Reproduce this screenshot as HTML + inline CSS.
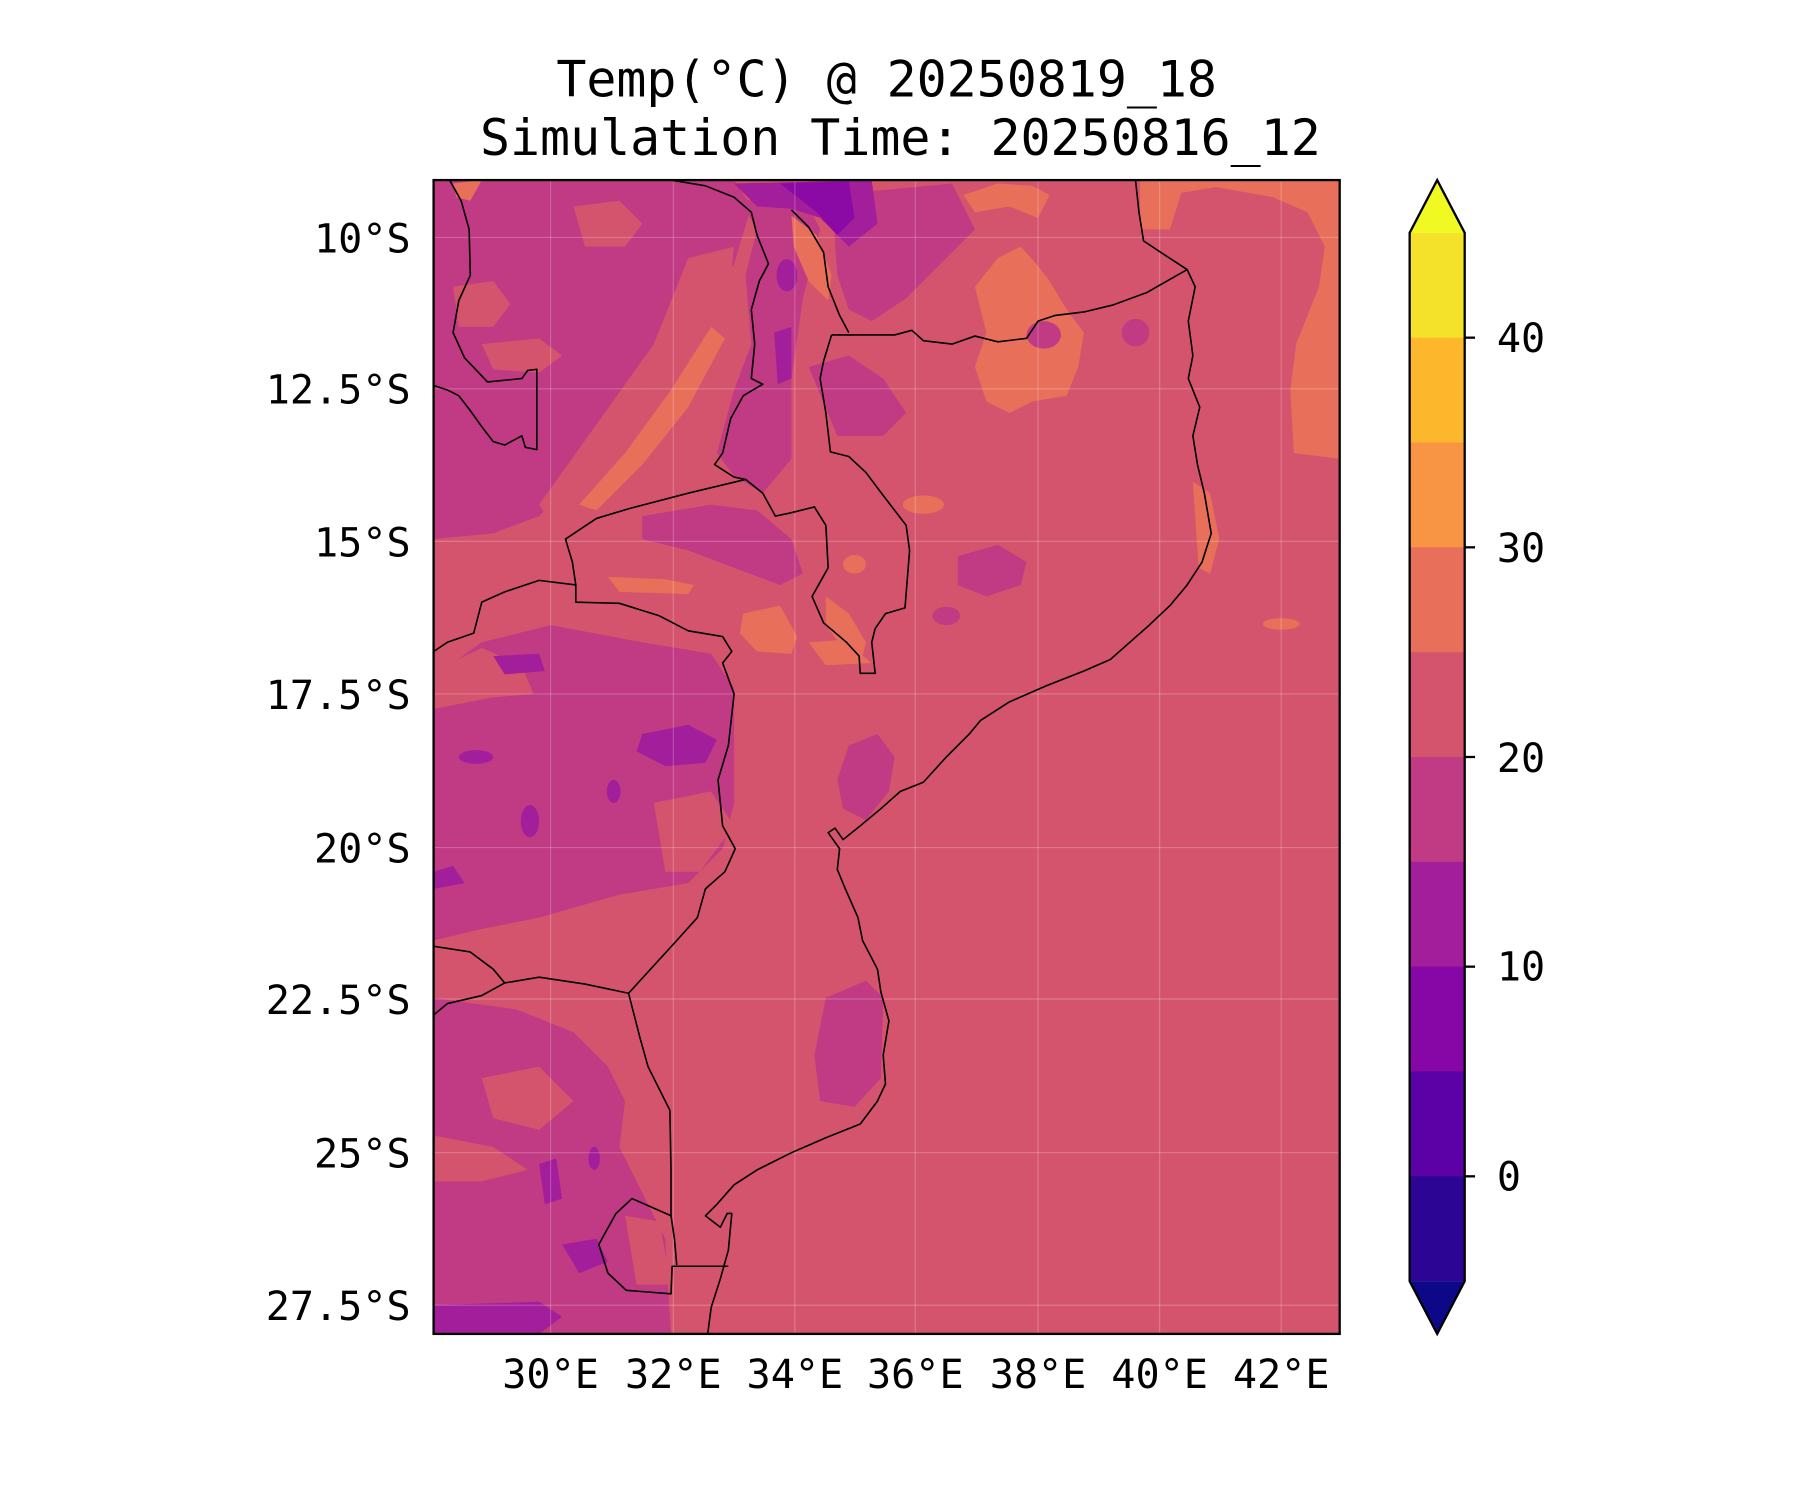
<!DOCTYPE html>
<html><head><meta charset="utf-8"><style>
html,body{margin:0;padding:0;background:#fff;}
svg{display:block;}
text{font-family:"DejaVu Sans Mono","Liberation Mono",monospace;fill:#000;}
</style></head><body>
<svg width="1800" height="1500" viewBox="0 0 1569.3 1307.8" xmlns="http://www.w3.org/2000/svg">
<defs><clipPath id="mc"><rect x="378" y="157" width="790" height="1006"/></clipPath></defs>
<text x="773" y="84" font-size="43.5" text-anchor="middle">Temp(°C) @ 20250819_18</text>
<text x="785" y="135" font-size="43.5" text-anchor="middle">Simulation Time: 20250816_12</text>
<g clip-path="url(#mc)">
<rect x="378" y="157" width="790" height="1006" fill="#d5546d"/>
<path fill="#e8705a" d="M994,157 L1168,157 L1168,400 L1128,395 L1125,340 L1130,300 L1140,275 L1150,250 L1155,215 L1140,185 L1110,172 L1060,163 L1030,168 L1020,200 L994,200 Z"/>
<path fill="#e8705a" d="M850,250 L870,225 L890,215 L905,232 L915,245 L930,270 L945,290 L940,320 L930,345 L900,350 L880,360 L860,350 L850,320 L860,290 Z"/>
<path fill="#e8705a" d="M840,170 L870,160 L900,162 L915,170 L905,190 L880,180 L850,185 Z"/>
<path fill="#e8705a" d="M1040,420 L1055,430 L1063,470 L1055,500 L1045,495 Z"/>
<ellipse cx="1117" cy="544" rx="16" ry="5" fill="#e8705a"/>
<path fill="#c03a84" d="M378,157 L640,157 L655,180 L640,230 L625,255 L590,290 L560,330 L530,380 L500,420 L470,450 L430,465 L378,470 Z"/>
<path fill="#d5546d" d="M395,250 L430,245 L445,265 L430,285 L400,285 Z"/>
<path fill="#d5546d" d="M420,300 L470,295 L490,310 L470,325 L430,322 Z"/>
<path fill="#d5546d" d="M500,180 L540,175 L560,195 L545,215 L510,215 Z"/>
<path fill="#d5546d" d="M600,225 L640,215 L635,260 L570,330 L520,400 L480,455 L470,440 L520,370 L570,300 Z"/>
<path fill="#e8705a" d="M620,285 L632,295 L600,355 L560,405 L520,445 L505,440 L545,395 L585,340 Z"/>
<path fill="#e8705a" d="M395,160 L420,157 L410,175 L398,172 Z"/>
<path fill="#c03a84" d="M645,175 L700,170 L715,200 L700,260 L690,330 L690,400 L665,430 L640,415 L625,395 L640,340 L655,300 L650,240 L660,200 Z"/>
<path fill="#c03a84" d="M725,170 L830,160 L850,200 L820,230 L790,260 L760,280 L740,270 L730,240 Z"/>
<path fill="#a21e9a" d="M640,160 L760,157 L765,195 L740,215 L715,190 L690,182 L660,180 Z"/>
<path fill="#8b0aa5" d="M680,160 L740,158 L745,190 L730,205 L712,185 Z"/>
<path fill="#a21e9a" d="M675,290 L690,285 L690,330 L678,335 Z"/>
<ellipse cx="686" cy="240" rx="9" ry="14" fill="#a21e9a"/>
<path fill="#e8705a" d="M690,188 L712,205 L725,240 L722,262 L705,245 L692,215 Z"/>
<path fill="#c03a84" d="M705,320 L740,310 L770,330 L790,360 L770,380 L730,380 Z"/>
<path fill="#c03a84" d="M560,450 L620,440 L660,445 L690,470 L700,500 L680,510 L640,495 L600,480 L560,470 Z"/>
<ellipse cx="805" cy="440" rx="18" ry="8" fill="#e8705a"/>
<ellipse cx="745" cy="492" rx="10" ry="8" fill="#e8705a"/>
<path fill="#e8705a" d="M720,520 L740,535 L755,560 L750,580 L735,565 L720,545 Z"/>
<path fill="#e8705a" d="M648,535 L680,528 L695,555 L690,570 L660,568 L645,552 Z"/>
<path fill="#e8705a" d="M705,560 L735,558 L760,578 L720,580 Z"/>
<path fill="#e8705a" d="M530,503 L580,505 L605,510 L600,518 L540,516 Z"/>
<path fill="#c03a84" d="M835,485 L870,475 L895,490 L890,510 L860,520 L835,510 Z"/>
<ellipse cx="825" cy="537" rx="12" ry="8" fill="#c03a84"/>
<path fill="#c03a84" d="M740,650 L765,640 L780,660 L775,690 L755,715 L735,705 L730,680 Z"/>
<path fill="#c03a84" d="M720,870 L755,855 L770,870 L768,940 L745,965 L715,960 L710,920 Z"/>
<ellipse cx="910" cy="292" rx="15" ry="12" fill="#c03a84"/>
<ellipse cx="990" cy="290" rx="12" ry="12" fill="#c03a84"/>
<path fill="#c03a84" d="M378,590 L420,560 L480,545 L560,560 L620,570 L640,600 L640,700 L630,740 L600,770 L540,780 L470,800 L420,810 L378,820 Z"/>
<path fill="#d5546d" d="M378,585 L420,565 L455,580 L465,605 L430,608 L378,618 Z"/>
<path fill="#d5546d" d="M570,700 L620,690 L640,720 L610,760 L580,760 Z"/>
<path fill="#a21e9a" d="M560,640 L600,632 L625,645 L615,665 L580,668 L555,655 Z"/>
<path fill="#a21e9a" d="M378,760 L395,755 L405,770 L378,775 Z"/>
<ellipse cx="415" cy="660" rx="15" ry="6" fill="#a21e9a"/>
<ellipse cx="462" cy="716" rx="8" ry="14" fill="#a21e9a"/>
<ellipse cx="535" cy="690" rx="6" ry="10" fill="#a21e9a"/>
<path fill="#a21e9a" d="M430,572 L470,570 L475,585 L440,588 Z"/>
<path fill="#c03a84" d="M378,870 L450,880 L500,900 L530,930 L545,960 L540,1000 L560,1040 L580,1080 L585,1163 L378,1163 Z"/>
<path fill="#d5546d" d="M420,940 L470,930 L500,960 L470,985 L430,975 Z"/>
<path fill="#d5546d" d="M378,990 L430,1000 L460,1020 L420,1030 L378,1030 Z"/>
<path fill="#d5546d" d="M545,1060 L575,1065 L585,1120 L555,1120 Z"/>
<path fill="#a21e9a" d="M470,1015 L485,1010 L490,1045 L475,1050 Z"/>
<path fill="#a21e9a" d="M490,1085 L520,1080 L530,1100 L505,1110 Z"/>
<path fill="#a21e9a" d="M378,1138 L470,1135 L490,1148 L470,1163 L378,1163 Z"/>
<ellipse cx="518" cy="1010" rx="5" ry="10" fill="#a21e9a"/>
</g>
<g stroke="#ffffff" stroke-opacity="0.22" stroke-width="1">
<line x1="480" y1="157" x2="480" y2="1163"/><line x1="587" y1="157" x2="587" y2="1163"/>
<line x1="693" y1="157" x2="693" y2="1163"/><line x1="798" y1="157" x2="798" y2="1163"/>
<line x1="905" y1="157" x2="905" y2="1163"/><line x1="1011" y1="157" x2="1011" y2="1163"/>
<line x1="1117" y1="157" x2="1117" y2="1163"/>
<line x1="378" y1="207" x2="1168" y2="207"/><line x1="378" y1="339" x2="1168" y2="339"/>
<line x1="378" y1="472" x2="1168" y2="472"/><line x1="378" y1="605" x2="1168" y2="605"/>
<line x1="378" y1="739" x2="1168" y2="739"/><line x1="378" y1="871" x2="1168" y2="871"/>
<line x1="378" y1="1005" x2="1168" y2="1005"/><line x1="378" y1="1138" x2="1168" y2="1138"/>
</g>
<g clip-path="url(#mc)" fill="none" stroke="#000" stroke-width="1.4" stroke-linejoin="round">
<polyline points="990,157 993,185 997,210 1015,222 1035,235 1042,250 1036,280 1040,310 1036,330 1046,355 1040,380 1044,405 1050,430 1056,465 1048,490 1035,510 1020,528 1002,545 985,560 968,575 945,585 912,598 880,612 855,628 845,640 825,660 805,682 785,690 768,705 750,720 735,732 728,722 722,726 732,740 730,758 737,775 748,800 752,820 765,845 768,865 775,890 770,920 772,945 765,960 750,980 720,992 690,1005 660,1020 640,1033 625,1050 615,1060 628,1070 634,1058 638,1058 635,1090 628,1115 620,1140 617,1163"/>
<polyline points="1035,235 1000,255 970,266 945,272 920,275 905,280 895,295 870,298 850,293 830,300 805,297 795,288 780,292 760,292 725,292"/>
<polyline points="725,292 718,315 715,330 720,360 724,394 740,398 755,412 770,432 790,458 793,480 789,530 772,535 763,548 760,560 763,587 750,587 749,572 738,560 718,543 708,520 722,495 720,458 710,442 690,447 676,450 665,430 650,418"/>
<polyline points="585,157 615,162 640,172 655,185 660,205 670,230 662,245 655,270 658,300 655,330 665,335 648,345 637,365 630,395 623,405 640,416 650,418"/>
<polyline points="690,183 705,198 718,220 722,250 732,275 740,290"/>
<polyline points="650,418 600,430 550,443 520,452 493,470 499,490 502,510 502,525 540,526 575,537 600,550 630,555 638,568 630,578 640,605 635,650 626,680 630,720 641,740 632,760 615,775 608,800 590,820 548,866"/>
<polyline points="502,510 470,506 440,516 420,525 413,552 390,560 378,568"/>
<polyline points="378,825 410,830 430,845 440,857 470,852 510,858 548,866"/>
<polyline points="378,885 390,875 420,868 440,857"/>
<polyline points="548,866 558,905 565,930 576,952 584,968 585,1020 585,1060 588,1080 590,1103"/>
<polyline points="585,1060 551,1045 537,1058 522,1085 530,1110 546,1125 585,1128 586,1104 635,1104"/>
<polyline points="392,157 402,175 409,200 410,240 400,262 395,290 405,312 425,333 455,330 460,323 468,322 468,392 458,390 455,380 440,388 430,385 420,372 410,358 400,345 390,340 378,336"/>
</g>
<rect x="378" y="157" width="790" height="1006" fill="none" stroke="#000" stroke-width="2"/>
<g font-size="35" text-anchor="end">
<text x="358" y="220">10°S</text><text x="358" y="352">12.5°S</text>
<text x="358" y="485">15°S</text><text x="358" y="618">17.5°S</text>
<text x="358" y="752">20°S</text><text x="358" y="884">22.5°S</text>
<text x="358" y="1018">25°S</text><text x="358" y="1151">27.5°S</text>
</g>
<g font-size="35" text-anchor="middle">
<text x="480" y="1210">30°E</text><text x="587" y="1210">32°E</text><text x="693" y="1210">34°E</text>
<text x="798" y="1210">36°E</text><text x="905" y="1210">38°E</text><text x="1011" y="1210">40°E</text>
<text x="1117" y="1210">42°E</text>
</g>
<g>
<polygon points="1229,203 1253,157 1277,203" fill="#f0f921"/>
<rect x="1229" y="203" width="48" height="92" fill="#f4e22a"/>
<rect x="1229" y="294.4" width="48" height="92" fill="#fdb72c"/>
<rect x="1229" y="385.8" width="48" height="92" fill="#f79544"/>
<rect x="1229" y="477.2" width="48" height="92" fill="#e8705a"/>
<rect x="1229" y="568.6" width="48" height="92" fill="#d5546d"/>
<rect x="1229" y="660" width="48" height="92" fill="#c03a84"/>
<rect x="1229" y="751.4" width="48" height="92" fill="#a21e9a"/>
<rect x="1229" y="842.8" width="48" height="92" fill="#8606a6"/>
<rect x="1229" y="934.2" width="48" height="92" fill="#5c01a6"/>
<rect x="1229" y="1025.6" width="48" height="91.4" fill="#2c0594"/>
<polygon points="1229,1117 1253,1163 1277,1117" fill="#0d0887"/>
<polygon points="1229,203 1253,157 1277,203 1277,1117 1253,1163 1229,1117" fill="none" stroke="#000" stroke-width="2"/>
<g stroke="#000" stroke-width="2">
<line x1="1277" y1="294.4" x2="1286" y2="294.4"/><line x1="1277" y1="477.2" x2="1286" y2="477.2"/>
<line x1="1277" y1="660" x2="1286" y2="660"/><line x1="1277" y1="842.8" x2="1286" y2="842.8"/>
<line x1="1277" y1="1025.6" x2="1286" y2="1025.6"/>
</g>
<g font-size="35">
<text x="1305" y="307">40</text><text x="1305" y="490">30</text><text x="1305" y="673">20</text>
<text x="1305" y="855">10</text><text x="1305" y="1038">0</text>
</g>
</g>
</svg>
</body></html>
